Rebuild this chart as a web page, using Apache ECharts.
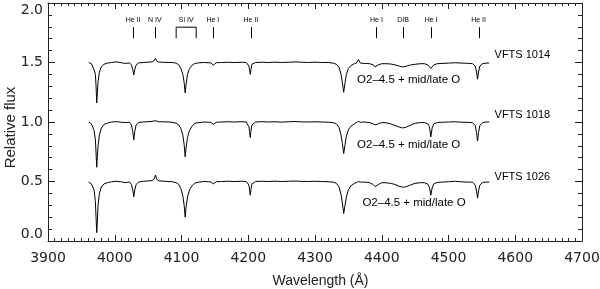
<!DOCTYPE html>
<html><head><meta charset="utf-8">
<script src="https://cdn.jsdelivr.net/npm/echarts@6/dist/echarts.min.js"></script>
<style>html,body{margin:0;padding:0;background:#fff}#c{width:600px;height:289px}</style>
</head><body><div id="c"></div>
<script>
// Observed wavelength grid (Angstrom)
const wavelength = [
  3961, 3965, 3969, 3971, 3972, 3973, 3974, 3975, 3977, 3980, 3984, 3989, 3995,
  4002, 4010, 4016, 4022, 4025, 4027, 4028.5, 4030, 4032, 4036,
  4043, 4050, 4056, 4059, 4061, 4063, 4066,
  4072, 4080, 4086, 4092, 4096, 4099, 4102, 4104, 4105.5, 4107, 4109, 4112, 4116, 4120, 4126,
  4134, 4140, 4144, 4146, 4147.5, 4149, 4152,
  4160, 4170, 4180, 4190, 4197, 4201, 4202, 4203, 4204, 4205.5, 4208, 4211,
  4220, 4230, 4240, 4250, 4260, 4270, 4280, 4290, 4300, 4310, 4320,
  4327, 4332, 4336, 4339, 4341, 4343, 4345, 4347, 4350, 4354, 4359,
  4362, 4365, 4368, 4374, 4382, 4387, 4390, 4392, 4395, 4400,
  4405, 4413, 4420, 4426, 4431, 4436, 4442, 4450, 4458,
  4464, 4469, 4471.5, 4473.5, 4475.5, 4478, 4483,
  4490, 4500, 4510, 4520, 4529, 4536, 4540, 4542, 4543.5, 4545, 4547, 4551, 4556, 4561
];
const flux1014 = [
  1.500, 1.490, 1.440, 1.400, 1.300, 1.160, 1.250, 1.340, 1.420, 1.465, 1.485, 1.495, 1.500,
  1.505, 1.498, 1.492, 1.497, 1.480, 1.440, 1.395, 1.440, 1.480, 1.497,
  1.500, 1.503, 1.505, 1.515, 1.535, 1.512, 1.503,
  1.502, 1.500, 1.500, 1.495, 1.480, 1.450, 1.400, 1.330, 1.245, 1.320, 1.400, 1.450, 1.478, 1.492, 1.497,
  1.500, 1.498, 1.497, 1.488, 1.478, 1.488, 1.498,
  1.500, 1.502, 1.500, 1.502, 1.500, 1.470, 1.440, 1.400, 1.440, 1.485, 1.490, 1.500,
  1.502, 1.500, 1.503, 1.500, 1.502, 1.505, 1.502, 1.500, 1.503, 1.500, 1.500,
  1.495, 1.485, 1.460, 1.400, 1.330, 1.250, 1.330, 1.400, 1.450, 1.475, 1.490,
  1.495, 1.525, 1.495, 1.492, 1.490, 1.480, 1.465, 1.465, 1.480, 1.490,
  1.490, 1.488, 1.480, 1.470, 1.463, 1.468, 1.478, 1.485, 1.490,
  1.490, 1.480, 1.465, 1.450, 1.465, 1.480, 1.490,
  1.492, 1.495, 1.498, 1.495, 1.493, 1.490, 1.470, 1.420, 1.360, 1.420, 1.470, 1.490, 1.495, 1.495
];
const flux1018 = [
  1.000, 0.985, 0.930, 0.850, 0.740, 0.620, 0.710, 0.800, 0.890, 0.950, 0.980, 0.990, 1.000,
  1.003, 0.998, 0.995, 0.998, 0.975, 0.920, 0.850, 0.920, 0.975, 0.996,
  1.000, 1.003, 1.005, 1.010, 1.020, 1.008, 1.002,
  1.002, 1.000, 0.998, 0.990, 0.975, 0.945, 0.890, 0.810, 0.707, 0.790, 0.870, 0.930, 0.965, 0.990, 0.995,
  1.000, 0.998, 0.997, 0.990, 0.980, 0.990, 0.998,
  1.000, 1.002, 1.000, 1.003, 1.000, 0.960, 0.920, 0.870, 0.920, 0.975, 0.985, 1.000,
  1.003, 1.000, 1.002, 0.999, 1.002, 1.004, 1.001, 1.000, 1.002, 1.000, 0.998,
  0.995, 0.985, 0.955, 0.890, 0.820, 0.735, 0.810, 0.880, 0.935, 0.965, 0.985,
  0.995, 1.005, 0.998, 1.000, 0.995, 0.985, 0.975, 0.975, 0.985, 0.995,
  0.995, 0.985, 0.970, 0.958, 0.950, 0.955, 0.970, 0.990, 0.995,
  0.995, 0.985, 0.960, 0.875, 0.950, 0.985, 0.995,
  0.998, 1.000, 1.002, 0.998, 0.997, 0.995, 0.970, 0.910, 0.840, 0.910, 0.970, 0.995, 1.000, 1.000
];
const flux1026 = [
  0.495, 0.480, 0.430, 0.330, 0.200, 0.070, 0.170, 0.300, 0.400, 0.455, 0.480, 0.490, 0.497,
  0.502, 0.497, 0.490, 0.496, 0.475, 0.430, 0.370, 0.430, 0.475, 0.496,
  0.502, 0.505, 0.508, 0.520, 0.555, 0.518, 0.505,
  0.503, 0.500, 0.498, 0.490, 0.475, 0.440, 0.380, 0.300, 0.200, 0.290, 0.370, 0.430, 0.465, 0.487, 0.495,
  0.500, 0.498, 0.497, 0.490, 0.480, 0.490, 0.498,
  0.500, 0.502, 0.500, 0.502, 0.500, 0.470, 0.430, 0.385, 0.430, 0.480, 0.488, 0.500,
  0.502, 0.500, 0.503, 0.500, 0.502, 0.504, 0.501, 0.500, 0.502, 0.500, 0.498,
  0.495, 0.485, 0.455, 0.390, 0.320, 0.231, 0.300, 0.370, 0.430, 0.465, 0.485,
  0.490, 0.500, 0.495, 0.495, 0.490, 0.475, 0.457, 0.460, 0.475, 0.490,
  0.490, 0.485, 0.475, 0.460, 0.452, 0.455, 0.468, 0.485, 0.490,
  0.490, 0.478, 0.450, 0.385, 0.445, 0.480, 0.492,
  0.495, 0.498, 0.502, 0.497, 0.495, 0.495, 0.470, 0.420, 0.360, 0.420, 0.470, 0.492, 0.495, 0.495
];
// Line identifications
const lineIdWave = [4027.5, 4060, 4147, 4204, 4392, 4432, 4474, 4545];
const lineIdName = ['He II', 'N IV', 'He I', 'He II', 'He I', 'DIB', 'He I', 'He II'];
const siIVRange = [4092, 4122];
const siIVName = 'Si IV';
const starNames = ['VFTS 1014', 'VFTS 1018', 'VFTS 1026'];
const spTypeText = 'O2\u20134.5 + mid/late O';
const xTitle = 'Wavelength (\u00c5)';
const yTitle = 'Relative flux';

// Annotation placement (data coordinates)
const starLabelAt = [[4569, 1.561], [4569, 1.057], [4569, 0.539]];
const spTypeAt = [[4363, 1.351], [4363, 0.805], [4371, 0.324]];
const idTickTop = 1.797, idTickBottom = 1.704, idTextY = 1.855;

const chart = echarts.init(document.getElementById('c'), null, {renderer: 'canvas'});
const axisColor = '#222';
const tickFont = 'DejaVu Sans';
function xAxisCfg(pos, showLabel) {
  return {
    type: 'value', position: pos, min: 3900, max: 4700, interval: 100,
    axisLine: {show: true, onZero: false, lineStyle: {color: axisColor, width: 1}},
    axisTick: {show: true, inside: true, length: 6, lineStyle: {color: axisColor}},
    minorTick: {show: true, splitNumber: 10, length: 3, lineStyle: {color: axisColor}},
    splitLine: {show: false},
    axisLabel: {show: showLabel, fontFamily: tickFont, fontSize: 14, color: '#222', margin: 10,
      formatter: v => String(v)}
  };
}
function yAxisCfg(pos, showLabel) {
  return {
    type: 'value', position: pos, min: 0, max: 2, interval: 0.5,
    axisLine: {show: true, onZero: false, lineStyle: {color: axisColor, width: 1}},
    axisTick: {show: true, inside: true, length: 7, lineStyle: {color: axisColor}},
    minorTick: {show: true, splitNumber: 5, length: 4, lineStyle: {color: axisColor}},
    splitLine: {show: false},
    axisLabel: {show: showLabel, fontFamily: tickFont, fontSize: 14, color: '#222', margin: 5,
      verticalAlignMinLabel: 'bottom', verticalAlignMaxLabel: 'top',
      formatter: v => v.toFixed(1)}
  };
}
function spec(flux) {
  return {
    type: 'line', data: wavelength.map((w, i) => [w, flux[i]]), showSymbol: false,
    lineStyle: {color: '#000', width: 1}, silent: true, z: 3
  };
}
const txt = (x, y, text, font, align) => ({
  type: 'text',
  style: {x, y, text, fill: '#000', font, align, verticalAlign: 'middle', textAlign: align, textVerticalAlign: 'middle'}
});

chart.setOption({
  animation: false,
  grid: {left: 48, right: 18, top: 3, bottom: 48, containLabel: false, outerBoundsMode: 'none'},
  xAxis: [xAxisCfg('bottom', true), xAxisCfg('top', false)],
  yAxis: [yAxisCfg('left', true), yAxisCfg('right', false)],
  graphic: [
    {type: 'text', x: 320.5, y: 281.5, silent: true,
     style: {text: xTitle, fill: '#222', font: '14px "Liberation Sans"', align: 'center', verticalAlign: 'middle',
             textAlign: 'center', textVerticalAlign: 'middle'}},
    {type: 'text', x: 11, y: 127.5, rotation: Math.PI / 2, silent: true,
     style: {text: yTitle, fill: '#222', font: '15px "Liberation Sans"', align: 'center', verticalAlign: 'middle',
             textAlign: 'center', textVerticalAlign: 'middle'}}
  ],
  series: [
    spec(flux1014), spec(flux1018), spec(flux1026),
    {
      type: 'custom', silent: true, z: 4,
      data: lineIdWave.map((w, i) => [w, i]),
      renderItem: (params, api) => {
        const w = api.value(0), name = lineIdName[api.value(1)];
        const a = api.coord([w, idTickTop]), b = api.coord([w, idTickBottom]), t = api.coord([w, idTextY]);
        return {type: 'group', children: [
          {type: 'line', shape: {x1: Math.round(a[0]) + 0.5, y1: a[1], x2: Math.round(b[0]) + 0.5, y2: b[1]},
           style: {stroke: '#000', lineWidth: 1}},
          txt(t[0], t[1], name, '7px "Liberation Sans"', 'center')
        ]};
      }
    },
    {
      type: 'custom', silent: true, z: 4,
      data: [[siIVRange[0], siIVRange[1]]],
      renderItem: (params, api) => {
        const w0 = api.value(0), w1 = api.value(1);
        const p0 = api.coord([w0, idTickBottom]), p1 = api.coord([w0, idTickTop]);
        const p2 = api.coord([w1, idTickTop]), p3 = api.coord([w1, idTickBottom]);
        const t = api.coord([(w0 + w1) / 2, idTextY]);
        return {type: 'group', children: [
          {type: 'polyline', shape: {points: [p0, p1, p2, p3]}, style: {stroke: '#000', lineWidth: 1, fill: null}},
          txt(t[0], t[1], siIVName, '7px "Liberation Sans"', 'center')
        ]};
      }
    },
    {
      type: 'custom', silent: true, z: 4,
      data: starNames.map((s, i) => [i]),
      renderItem: (params, api) => {
        const i = api.value(0);
        const s = api.coord(starLabelAt[i]), o = api.coord(spTypeAt[i]);
        return {type: 'group', children: [
          txt(s[0], s[1], starNames[i], '11px "Liberation Sans"', 'left'),
          txt(o[0], o[1], spTypeText, '11.5px "Liberation Sans"', 'left')
        ]};
      }
    }
  ]
});
</script></body></html>
